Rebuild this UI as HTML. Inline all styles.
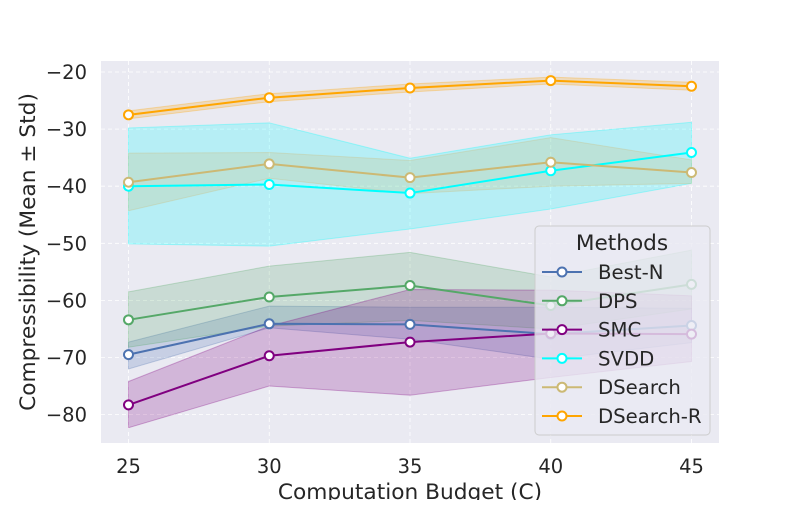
<!DOCTYPE html>
<html><head><meta charset="utf-8"><style>
body{margin:0;background:#fff;font-family:"Liberation Sans","DejaVu Sans",sans-serif;}
svg text{font-family:"DejaVu Sans","Liberation Sans",sans-serif;fill:#262626;}
</style></head><body>
<svg id="chart" width="800" height="500" xmlns="http://www.w3.org/2000/svg">
<rect x="0" y="0" width="800" height="500" fill="#fff"/>
<rect x="101" y="61" width="618" height="382" fill="#eaeaf2"/>
<g id="grid"></g><g id="bands"></g><g id="lines"></g><g id="ticks"></g>
<text x="410" y="499" text-anchor="middle" font-size="21.7">Computation Budget (C)</text>
<text transform="translate(35,252) rotate(-90)" text-anchor="middle" font-size="21.7">Compressibility (Mean ± Std)</text>
<g id="legend">
<rect x="535" y="226" width="175" height="209" rx="4" fill="rgba(234,234,242,0.8)" stroke="#cccccc"/>
<text x="622" y="250" text-anchor="middle" font-size="21.6">Methods</text>
</g>
</svg>
<script>
const budgets=[25,30,35,40,45];
const names=["Best-N","DPS","SMC","SVDD","DSearch","DSearch-R"];
const colors=["#4c72b0","#55a868","#800080","#00ffff","#ccb974","#ffa500"];
const meanBestN=[-69.5,-64.1,-64.2,-65.9,-64.4];
const lowBestN=[-72,-64.8,-66.8,-70.3,-67.4];
const highBestN=[-67.3,-61,-61.2,-61.2,-61.4];
const meanDPS=[-63.4,-59.4,-57.4,-60.9,-57.2];
const lowDPS=[-68.2,-64.5,-63.5,-65,-61.5];
const highDPS=[-58.5,-54,-51.6,-55.9,-51.2];
const meanSMC=[-78.3,-69.7,-67.3,-65.8,-65.9];
const lowSMC=[-82.3,-75,-76.6,-73.5,-70.7];
const highSMC=[-74.2,-64.5,-58.1,-58.2,-59.2];
const meanSVDD=[-40,-39.7,-41.2,-37.3,-34.1];
const lowSVDD=[-50.1,-50.5,-47.5,-44,-39.5];
const highSVDD=[-29.8,-28.9,-35.1,-31,-28.8];
const meanDS=[-39.3,-36.1,-38.5,-35.8,-37.6];
const lowDS=[-44.3,-38.6,-41.3,-40,-39.5];
const highDS=[-34.2,-34.1,-35.5,-31.5,-35.4];
const meanDSR=[-27.5,-24.5,-22.8,-21.5,-22.5];
const lowDSR=[-28.2,-25.2,-23.5,-22.1,-23.2];
const highDSR=[-26.8,-23.8,-22.1,-20.9,-21.8];
const yTicks=[-20,-30,-40,-50,-60,-70,-80];
const xTicks=[25,30,35,40,45];
const means=[meanBestN,meanDPS,meanSMC,meanSVDD,meanDS,meanDSR];
const lows=[lowBestN,lowDPS,lowSMC,lowSVDD,lowDS,lowDSR];
const highs=[highBestN,highDPS,highSMC,highSVDD,highDS,highDSR];
const X=v=>128.5+(v-25)*28.15;
const Y=v=>72+(-20-v)*5.71;
const NS="http://www.w3.org/2000/svg";
function mk(t,a,p){const e=document.createElementNS(NS,t);for(const k in a)e.setAttribute(k,a[k]);p.appendChild(e);return e;}
const grid=document.getElementById('grid'),ticks=document.getElementById('ticks');
yTicks.forEach(v=>{const l=mk('line',{x1:101,x2:719,y1:Y(v),y2:Y(v),stroke:'#fff','stroke-dasharray':'4,3','stroke-width':0.8},grid);

const t=mk('text',{x:87,y:Y(v)+7,'text-anchor':'end','font-size':19.5},ticks);t.textContent='\u2212'+Math.abs(v);
});
xTicks.forEach(v=>{const l=mk('line',{x1:X(v),x2:X(v),y1:61,y2:443,stroke:'#fff','stroke-dasharray':'4,3','stroke-width':0.8},grid);

const t=mk('text',{x:X(v),y:473,'text-anchor':'middle','font-size':19.5},ticks);t.textContent=v;
});
const bands=document.getElementById('bands'),lines=document.getElementById('lines');
names.forEach((n,i)=>{
 const slug=n.toLowerCase();
 let d=budgets.map((b,j)=>(j?'L':'M')+X(b)+','+Y(highs[i][j])).join('');
 d+=budgets.slice().reverse().map((b,k)=>'L'+X(b)+','+Y(lows[i][budgets.length-1-k])).join('')+'Z';
 const p=mk('path',{d:d,fill:colors[i],'fill-opacity':0.22,stroke:colors[i],'stroke-opacity':0.3},bands);
 
 const pl=mk('polyline',{points:budgets.map((b,j)=>X(b)+','+Y(means[i][j])).join(' '),fill:'none',stroke:colors[i],'stroke-width':2},lines);
 
 budgets.forEach((b,j)=>{const c=mk('circle',{cx:X(b),cy:Y(means[i][j]),r:4.5,fill:'#fff',stroke:colors[i],'stroke-width':2},lines);
 });
});
const lg=document.getElementById('legend');
names.forEach((n,i)=>{const y=272+i*28.8;
 const g=mk('g',{},lg);
 mk('line',{x1:542,x2:582,y1:y,y2:y,stroke:colors[i],'stroke-width':2},g);
 mk('circle',{cx:562,cy:y,r:4.5,fill:'#fff',stroke:colors[i],'stroke-width':2},g);
 const t=mk('text',{x:598,y:y+7,'font-size':19.7},g);t.textContent=n;});
</script>
</body></html>
